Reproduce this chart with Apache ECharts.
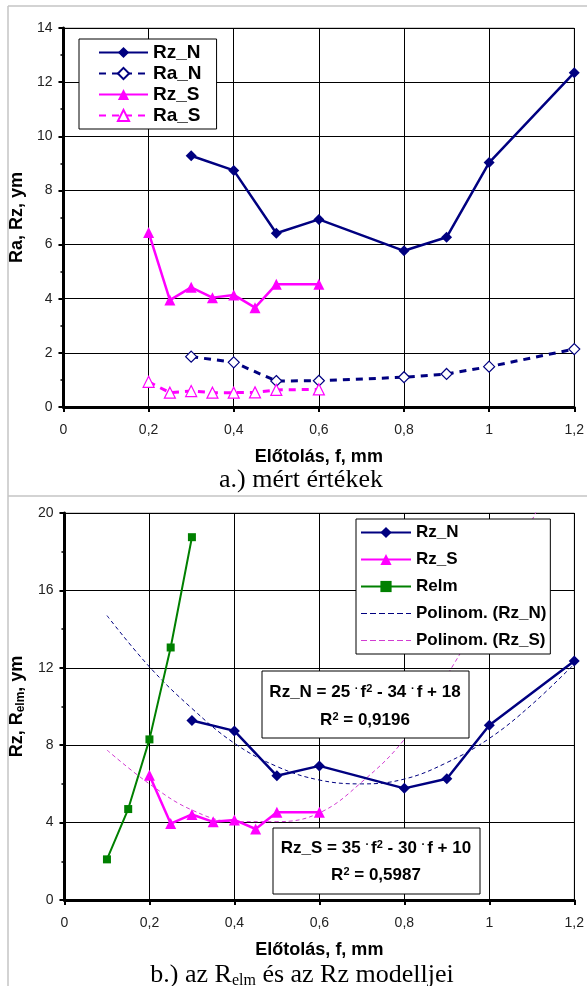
<!DOCTYPE html>
<html>
<head>
<meta charset="utf-8">
<script src="https://cdn.jsdelivr.net/npm/echarts@6/dist/echarts.min.js"></script>
<style>
  html, body { margin: 0; padding: 0; background: #fff; }
  #chart { width: 587px; height: 986px; }
</style>
</head>
<body>
<div id="chart"></div>
<script>
// f values (Előtolás, mm)
var fN = [0.3, 0.4, 0.5, 0.6, 0.8, 0.9, 1.0, 1.2];
var fS = [0.2, 0.25, 0.3, 0.35, 0.4, 0.45, 0.5, 0.6];
var fRelm = [0.1, 0.15, 0.2, 0.25, 0.3];
var fTrendN = [0.1, 0.2, 0.3, 0.4, 0.5, 0.6, 0.7, 0.8, 0.9, 1.0, 1.1, 1.2];
var fTrendS = [0.1, 0.2, 0.3, 0.4, 0.5, 0.6, 0.7, 0.8, 0.9, 1.0, 1.1, 1.15];

// measured values
var rzN = [9.28, 8.74, 6.42, 6.93, 5.77, 6.27, 9.03, 12.35];
var raN = [1.86, 1.65, 0.96, 0.97, 1.1, 1.22, 1.49, 2.14];
var rzS = [6.45, 3.95, 4.42, 4.04, 4.14, 3.67, 4.53, 4.53];
var raS = [0.93, 0.53, 0.59, 0.53, 0.53, 0.54, 0.63, 0.65];
var relm = [2.1, 4.7, 8.3, 13.05, 18.75];

// trend lines
var trendN = [14.7, 12.05, 9.9, 8.1, 6.9, 6.2, 6.0, 6.25, 7.1, 8.35, 10.1, 12.2];
var trendS = [7.75, 6.0, 4.65, 4.05, 4.05, 4.5, 6.1, 8.3, 11.6, 15.4, 19.6, 22.0];

function pairs(xs, ys) {
  return xs.map(function (x, i) { return [x, ys[i]]; });
}

var sans = "'Liberation Sans', Arial, sans-serif";
var serif = "'Liberation Serif', 'Times New Roman', serif";
var NAVY = '#000080';
var MAG = '#ff00ff';
var PINK = '#d23cd2';
var GREEN = '#008000';

var chart = echarts.init(document.getElementById('chart'));

function xAxisCfg(gridIndex) {
  return {
    gridIndex: gridIndex,
    type: 'value',
    min: 0, max: 1.2, interval: 0.2,
    name: 'Előtolás, f, mm',
    nameLocation: 'middle',
    nameGap: 41,
    nameTextStyle: { fontFamily: sans, fontSize: 18, fontWeight: 'bold', color: '#000' },
    axisLine: { show: true, lineStyle: { color: '#000', width: 3 } },
    axisTick: { show: true, inside: false, length: 5, lineStyle: { color: '#000', width: 2 } },
    axisLabel: {
      margin: 16, fontFamily: sans, fontSize: 14, color: '#222',
      formatter: function (v) { return String(+v.toFixed(1)).replace('.', ','); }
    },
    splitLine: { show: true, lineStyle: { color: '#000', width: 1 } }
  };
}

function yAxisCfg(gridIndex, max, interval, name, nameGap, rich) {
  var cfg = {
    gridIndex: gridIndex,
    type: 'value',
    min: 0, max: max, interval: interval,
    name: name,
    nameLocation: 'middle',
    nameGap: nameGap,
    nameTextStyle: { fontFamily: sans, fontSize: 18, fontWeight: 'bold', color: '#000' },
    axisLine: { show: true, lineStyle: { color: '#000', width: 3 } },
    axisTick: { show: true, inside: false, length: 5, lineStyle: { color: '#000', width: 2 } },
    minorTick: { show: true, splitNumber: 2, length: 3, lineStyle: { color: '#000', width: 1.5 } },
    axisLabel: { margin: 11, fontFamily: sans, fontSize: 14, color: '#222' },
    splitLine: { show: true, lineStyle: { color: '#000', width: 1 } }
  };
  if (rich) cfg.nameTextStyle.rich = rich;
  return cfg;
}

// thin dashed line used as legend icon for the trend lines
var dashIcon = 'path://M0,0h6v1h-6z M9,0h6v1h-6z M18,0h6v1h-6z M27,0h6v1h-6z M36,0h6v1h-6z M45,0h5v1h-5z';

var option = {
  animation: false,
  backgroundColor: '#fff',
  grid: [
    { left: 59, top: 28, width: 516, height: 379, show: true, borderColor: '#999', borderWidth: 1 },
    { left: 61, top: 513, width: 516, height: 387, show: true, borderColor: '#999', borderWidth: 1 }
  ],
  xAxis: [xAxisCfg(0), xAxisCfg(1)],
  yAxis: [
    yAxisCfg(0, 14, 2, 'Ra, Rz, ym', 34),
    yAxisCfg(1, 20, 4, '{a|Rz, R}{s|elm}{a|, ym}', 35, {
      a: { fontFamily: sans, fontSize: 18, fontWeight: 'bold', color: '#000', lineHeight: 20 },
      s: { fontFamily: sans, fontSize: 12, fontWeight: 'bold', color: '#000', lineHeight: 20, verticalAlign: 'bottom' }
    })
  ],
  legend: [
    {
      left: 79, top: 39,
      orient: 'vertical',
      data: ['Rz_N', 'Ra_N', 'Rz_S', 'Ra_S'],
      backgroundColor: '#fff',
      borderColor: '#000', borderWidth: 1,
      padding: [4, 15, 4, 19],
      itemWidth: 49, itemHeight: 14, itemGap: 2,
      textStyle: { fontFamily: sans, fontSize: 19, fontWeight: 'bold', color: '#000', lineHeight: 19 },
      selectedMode: false
    },
    {
      left: 356, top: 519,
      orient: 'vertical',
      data: [
        'Rz_N', 'Rz_S', 'Relm',
        { name: 'Polinom. (Rz_N)', icon: dashIcon, itemStyle: { color: NAVY } },
        { name: 'Polinom. (Rz_S)', icon: dashIcon, itemStyle: { color: PINK } }
      ],
      backgroundColor: '#fff',
      borderColor: '#000', borderWidth: 1,
      padding: [5, 4, 5, 4],
      itemWidth: 50, itemHeight: 14, itemGap: 10,
      textStyle: { fontFamily: sans, fontSize: 17, fontWeight: 'bold', color: '#000', lineHeight: 17 },
      selectedMode: false
    }
  ],
  series: [
    // chart a
    {
      name: 'Rz_N', type: 'line', xAxisIndex: 0, yAxisIndex: 0,
      data: pairs(fN, rzN),
      symbol: 'diamond', symbolSize: 11,
      itemStyle: { color: NAVY },
      lineStyle: { color: NAVY, width: 2.5 }
    },
    {
      name: 'Ra_N', type: 'line', xAxisIndex: 0, yAxisIndex: 0,
      data: pairs(fN, raN),
      symbol: 'diamond', symbolSize: 11,
      itemStyle: { color: '#fff', borderColor: NAVY, borderWidth: 1.2 },
      lineStyle: { color: NAVY, width: 3, type: [7, 6] }
    },
    {
      name: 'Rz_S', type: 'line', xAxisIndex: 0, yAxisIndex: 0,
      data: pairs(fS, rzS),
      symbol: 'triangle', symbolSize: 11,
      itemStyle: { color: MAG },
      lineStyle: { color: MAG, width: 2.5 }
    },
    {
      name: 'Ra_S', type: 'line', xAxisIndex: 0, yAxisIndex: 0,
      data: pairs(fS, raS),
      symbol: 'triangle', symbolSize: 11,
      itemStyle: { color: '#fff', borderColor: MAG, borderWidth: 1.2 },
      lineStyle: { color: MAG, width: 3, type: [7, 6] }
    },
    // chart b
    {
      name: 'Polinom. (Rz_N)', type: 'line', xAxisIndex: 1, yAxisIndex: 1,
      data: pairs(fTrendN, trendN),
      smooth: 0.4, symbol: 'none', z: 1,
      itemStyle: { color: NAVY },
      lineStyle: { color: NAVY, width: 1, type: [4, 3] }
    },
    {
      name: 'Polinom. (Rz_S)', type: 'line', xAxisIndex: 1, yAxisIndex: 1,
      data: pairs(fTrendS, trendS),
      smooth: 0.4, symbol: 'none', z: 1,
      itemStyle: { color: PINK },
      lineStyle: { color: PINK, width: 1, type: [4, 3] }
    },
    {
      name: 'Relm', type: 'line', xAxisIndex: 1, yAxisIndex: 1,
      data: pairs(fRelm, relm),
      symbol: 'rect', symbolSize: 8,
      itemStyle: { color: GREEN },
      lineStyle: { color: GREEN, width: 2 }
    },
    {
      name: 'Rz_N', type: 'line', xAxisIndex: 1, yAxisIndex: 1,
      data: pairs(fN, rzN),
      symbol: 'diamond', symbolSize: 11,
      itemStyle: { color: NAVY },
      lineStyle: { color: NAVY, width: 2.5 }
    },
    {
      name: 'Rz_S', type: 'line', xAxisIndex: 1, yAxisIndex: 1,
      data: pairs(fS, rzS),
      symbol: 'triangle', symbolSize: 11,
      itemStyle: { color: MAG },
      lineStyle: { color: MAG, width: 2.5 }
    }
  ],
  graphic: [
    // outer frame lines
    { type: 'line', z: -10, silent: true, shape: { x1: 8, y1: 6, x2: 587, y2: 6 },
      style: { stroke: '#c4c4c4', lineWidth: 1.5 } },
    { type: 'line', z: -10, silent: true, shape: { x1: 8, y1: 6, x2: 8, y2: 986 },
      style: { stroke: '#c4c4c4', lineWidth: 1.5 } },
    { type: 'line', z: -10, silent: true, shape: { x1: 8, y1: 496, x2: 587, y2: 496 },
      style: { stroke: '#c4c4c4', lineWidth: 1.5 } },
    // captions
    { type: 'text', x: 301, y: 480, z: 50,
      style: { text: 'a.) mért értékek', font: '26px ' + serif, fill: '#000', align: 'center', verticalAlign: 'middle' } },
    { type: 'text', x: 302, y: 975, z: 50,
      style: {
        text: '{a|b.) az R}{s|elm}{a| és az Rz modelljei}',
        fill: '#000', align: 'center', verticalAlign: 'middle',
        rich: {
          a: { fontFamily: serif, fontSize: 26, fill: '#000', lineHeight: 28 },
          s: { fontFamily: serif, fontSize: 16, fill: '#000', lineHeight: 28, verticalAlign: 'bottom' }
        }
      } },
    // equation boxes
    { type: 'rect', z: 100, shape: { x: 262, y: 671, width: 207, height: 67 },
      style: { fill: '#fff', stroke: '#000', lineWidth: 1 } },
    { type: 'text', z: 101, x: 365, y: 692,
      style: {
        text: '{t|Rz_N = 25 }{d|·}{t|f}{p|2}{t| - 34 }{d|·}{t|f + 18}',
        fill: '#000', align: 'center', verticalAlign: 'middle',
        rich: {
          t: { fontFamily: sans, fontSize: 17, fontWeight: 'bold', fill: '#000', lineHeight: 18 },
          p: { fontFamily: sans, fontSize: 11, fontWeight: 'bold', fill: '#000', lineHeight: 18, verticalAlign: 'top' },
          d: { fontFamily: sans, fontSize: 11, fontWeight: 'bold', fill: '#000', lineHeight: 18, verticalAlign: 'top', padding: [0, 2, 0, 0] }
        }
      } },
    { type: 'text', z: 101, x: 365, y: 720,
      style: {
        text: '{t|R}{p|2}{t| = 0,9196}',
        fill: '#000', align: 'center', verticalAlign: 'middle',
        rich: {
          t: { fontFamily: sans, fontSize: 17, fontWeight: 'bold', fill: '#000', lineHeight: 18 },
          p: { fontFamily: sans, fontSize: 11, fontWeight: 'bold', fill: '#000', lineHeight: 18, verticalAlign: 'top' }
        }
      } },
    { type: 'rect', z: 100, shape: { x: 273, y: 828, width: 207, height: 66 },
      style: { fill: '#fff', stroke: '#000', lineWidth: 1 } },
    { type: 'text', z: 101, x: 376, y: 848,
      style: {
        text: '{t|Rz_S = 35 }{d|·}{t|f}{p|2}{t| - 30 }{d|·}{t|f + 10}',
        fill: '#000', align: 'center', verticalAlign: 'middle',
        rich: {
          t: { fontFamily: sans, fontSize: 17, fontWeight: 'bold', fill: '#000', lineHeight: 18 },
          p: { fontFamily: sans, fontSize: 11, fontWeight: 'bold', fill: '#000', lineHeight: 18, verticalAlign: 'top' },
          d: { fontFamily: sans, fontSize: 11, fontWeight: 'bold', fill: '#000', lineHeight: 18, verticalAlign: 'top', padding: [0, 2, 0, 0] }
        }
      } },
    { type: 'text', z: 101, x: 376, y: 875,
      style: {
        text: '{t|R}{p|2}{t| = 0,5987}',
        fill: '#000', align: 'center', verticalAlign: 'middle',
        rich: {
          t: { fontFamily: sans, fontSize: 17, fontWeight: 'bold', fill: '#000', lineHeight: 18 },
          p: { fontFamily: sans, fontSize: 11, fontWeight: 'bold', fill: '#000', lineHeight: 18, verticalAlign: 'top' }
        }
      } }
  ]
};

chart.setOption(option);
</script>
</body>
</html>
